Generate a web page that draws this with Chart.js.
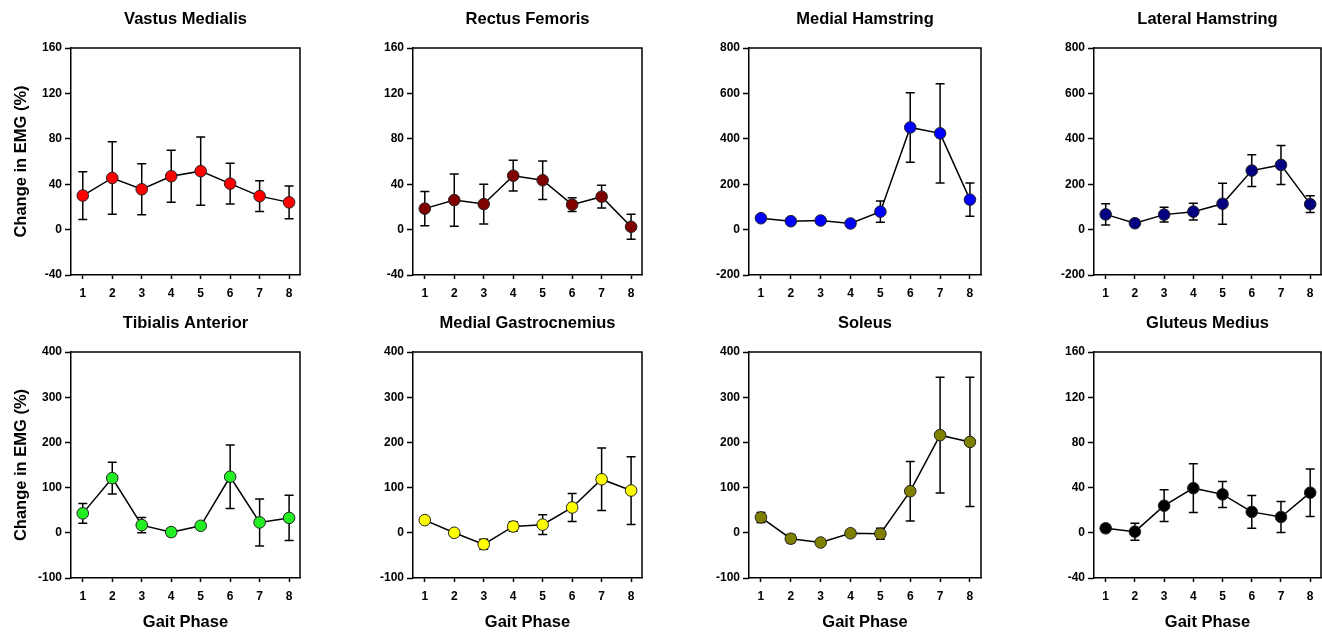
<!DOCTYPE html>
<html>
<head>
<meta charset="utf-8">
<script src="https://cdn.jsdelivr.net/npm/chart.js@4/dist/chart.umd.min.js"></script>
<style>
  html, body { margin: 0; padding: 0; background: #ffffff; width: 1322px; height: 632px; overflow: hidden; }
  canvas { position: absolute; }
</style>
</head>
<body>
<script>
// ---- Data ----
const phases = [1, 2, 3, 4, 5, 6, 7, 8];
const titles = ["Vastus Medialis", "Rectus Femoris", "Medial Hamstring", "Lateral Hamstring",
                "Tibialis Anterior", "Medial Gastrocnemius", "Soleus", "Gluteus Medius"];

const vmMean = [30, 45.5, 35.5, 47, 51.5, 40.5, 29.5, 24];
const vmErr  = [21, 32, 22.5, 23, 30, 18, 13.5, 14.5];
const rfMean = [18.5, 26, 22.5, 47.5, 43.5, 22, 29, 2.5];
const rfErr  = [15, 23, 17.5, 13.5, 17, 6, 10, 11];
const mhMean = [50, 37, 40, 27, 79, 450, 424, 132];
const mhErr  = [8, 12, 12, 6, 47, 153, 219, 73];
const lhMean = [67, 28, 66, 79, 114, 260, 285, 112];
const lhErr  = [47, 10, 33, 37, 90, 70, 86, 37];
const taMean = [43, 121, 17, 1.5, 15.5, 124, 23, 33];
const taErr  = [22, 35, 17, 8, 5, 70, 52, 50];
const mgMean = [28, 0, -25.5, 14, 18, 56, 118.5, 93.5];
const mgErr  = [5, 7, 11, 10.5, 22, 31, 69, 75];
const soMean = [34, -13, -21.5, -1, -2, 92, 216, 201];
const soErr  = [11, 9, 5, 4, 12, 66, 128, 143];
const gmMean = [4, 1, 24, 39.5, 34, 18.5, 14, 35.5];
const gmErr  = [2, 7.5, 14, 21.5, 11.5, 14.5, 13.8, 21];

const yRanges = [[-40, 160, 40], [-40, 160, 40], [-200, 800, 200], [-200, 800, 200],
                 [-100, 400, 100], [-100, 400, 100], [-100, 400, 100], [-40, 160, 40]];
const colors = ["#ff0000", "#800000", "#0000ff", "#000080", "#22ee22", "#ffff00", "#808000", "#000000"];
const means = [vmMean, rfMean, mhMean, lhMean, taMean, mgMean, soMean, gmMean];
const errs  = [vmErr, rfErr, mhErr, lhErr, taErr, mgErr, soErr, gmErr];

const yTitle = "Change in EMG (%)";
const xTitle = "Gait Phase";

// ---- Layout ----
const plotLeft  = [71, 413, 749, 1094];
const plotRight = [300, 642, 981, 1321];
const Y_AXIS_W = 70;
const TOP_PAD = 48;

Chart.defaults.font.family = 'Arial, "Liberation Sans", sans-serif';
Chart.defaults.font.weight = 'bold';
Chart.defaults.color = '#000';

const FONT = 'Arial, "Liberation Sans", sans-serif';

const errorBarPlugin = {
  id: 'errorBars',
  beforeDatasetsDraw(chart) {
    const ds = chart.data.datasets[0];
    const err = ds.errs;
    const xs = chart.scales.x, ys = chart.scales.y;
    const ctx = chart.ctx;
    ctx.save();
    ctx.strokeStyle = '#000';
    ctx.lineWidth = 1.5;
    ds.data.forEach((p, i) => {
      const x = xs.getPixelForValue(p.x);
      const yt = ys.getPixelForValue(p.y + err[i]);
      const yb = ys.getPixelForValue(p.y - err[i]);
      ctx.beginPath();
      ctx.moveTo(x, yt); ctx.lineTo(x, yb);
      ctx.moveTo(x - 4.5, yt); ctx.lineTo(x + 4.5, yt);
      ctx.moveTo(x - 4.5, yb); ctx.lineTo(x + 4.5, yb);
      ctx.stroke();
    });
    ctx.restore();
  }
};

const framePlugin = {
  id: 'frameTitle',
  afterDraw(chart, args, opts) {
    const a = chart.chartArea;
    const ctx = chart.ctx;
    ctx.save();
    ctx.strokeStyle = '#000';
    ctx.lineWidth = 1.5;
    ctx.beginPath();
    ctx.moveTo(a.left, a.top); ctx.lineTo(a.right, a.top); ctx.lineTo(a.right, a.bottom);
    ctx.stroke();
    ctx.fillStyle = '#000';
    ctx.font = 'bold 16.5px ' + FONT;
    ctx.textAlign = 'center';
    ctx.textBaseline = 'middle';
    ctx.fillText(opts.text, (a.left + a.right) / 2, 19);
    ctx.restore();
  }
};

for (let i = 0; i < 8; i++) {
  const col = i % 4, row = Math.floor(i / 4);
  const cv = document.createElement('canvas');
  const left = plotLeft[col] - Y_AXIS_W;
  const w = plotRight[col] - plotLeft[col] + Y_AXIS_W + 1;
  const top = row === 0 ? 0 : 304;
  const h = row === 0 ? 304 : 328;
  const xAxisH = row === 0 ? 29 : 54;
  cv.width = w; cv.height = h;
  cv.style.left = left + 'px'; cv.style.top = top + 'px';
  cv.style.width = w + 'px'; cv.style.height = h + 'px';
  document.body.appendChild(cv);

  const [ymin, ymax, ystep] = yRanges[i];
  const pts = phases.map((p, k) => ({ x: p, y: means[i][k] }));

  new Chart(cv, {
    type: 'line',
    data: {
      datasets: [{
        data: pts,
        errs: errs[i],
        borderColor: '#000',
        borderWidth: 1.5,
        pointRadius: 5.8,
        pointBackgroundColor: colors[i],
        pointBorderColor: '#222',
        pointBorderWidth: 1,
        tension: 0,
        fill: false
      }]
    },
    options: {
      responsive: false,
      animation: false,
      devicePixelRatio: 1,
      layout: { autoPadding: false, padding: { top: TOP_PAD, left: 0, right: 1, bottom: 0 } },
      plugins: {
        legend: { display: false },
        tooltip: { enabled: false },
        frameTitle: { text: titles[i] }
      },
      scales: {
        x: {
          type: 'linear',
          min: 0.6,
          max: 8.37,
          afterBuildTicks: (s) => { s.ticks = phases.map(v => ({ value: v })); },
          afterFit: (s) => { s.height = xAxisH; s.paddingLeft = 0; s.paddingRight = 0; },
          grid: { drawOnChartArea: false, drawTicks: true, tickLength: 4, tickWidth: 1.5, tickColor: '#000' },
          border: { display: true, color: '#000', width: 1.5 },
          ticks: { font: { size: 12, weight: 'bold' }, color: '#000', padding: 7, maxRotation: 0, autoSkip: false },
          title: { display: row === 1, text: xTitle, font: { size: 16.5, weight: 'bold' }, color: '#000', padding: { top: 0, bottom: 0 } }
        },
        y: {
          min: ymin, max: ymax,
          afterBuildTicks: (s) => {
            const t = [];
            for (let v = ymin; v <= ymax + 1e-9; v += ystep) t.push({ value: v });
            s.ticks = t;
          },
          afterFit: (s) => { s.width = Y_AXIS_W; },
          grid: { drawOnChartArea: false, drawTicks: true, tickLength: 6, tickWidth: 1.5, tickColor: '#000' },
          border: { display: true, color: '#000', width: 1.5 },
          ticks: { font: { size: 12, weight: 'bold' }, color: '#000', padding: 3 },
          title: { display: col === 0, text: yTitle, font: { size: 16.5, weight: 'bold' }, color: '#000', padding: { top: 11, bottom: 0 } }
        }
      }
    },
    plugins: [errorBarPlugin, framePlugin]
  });
}
</script>
</body>
</html>
